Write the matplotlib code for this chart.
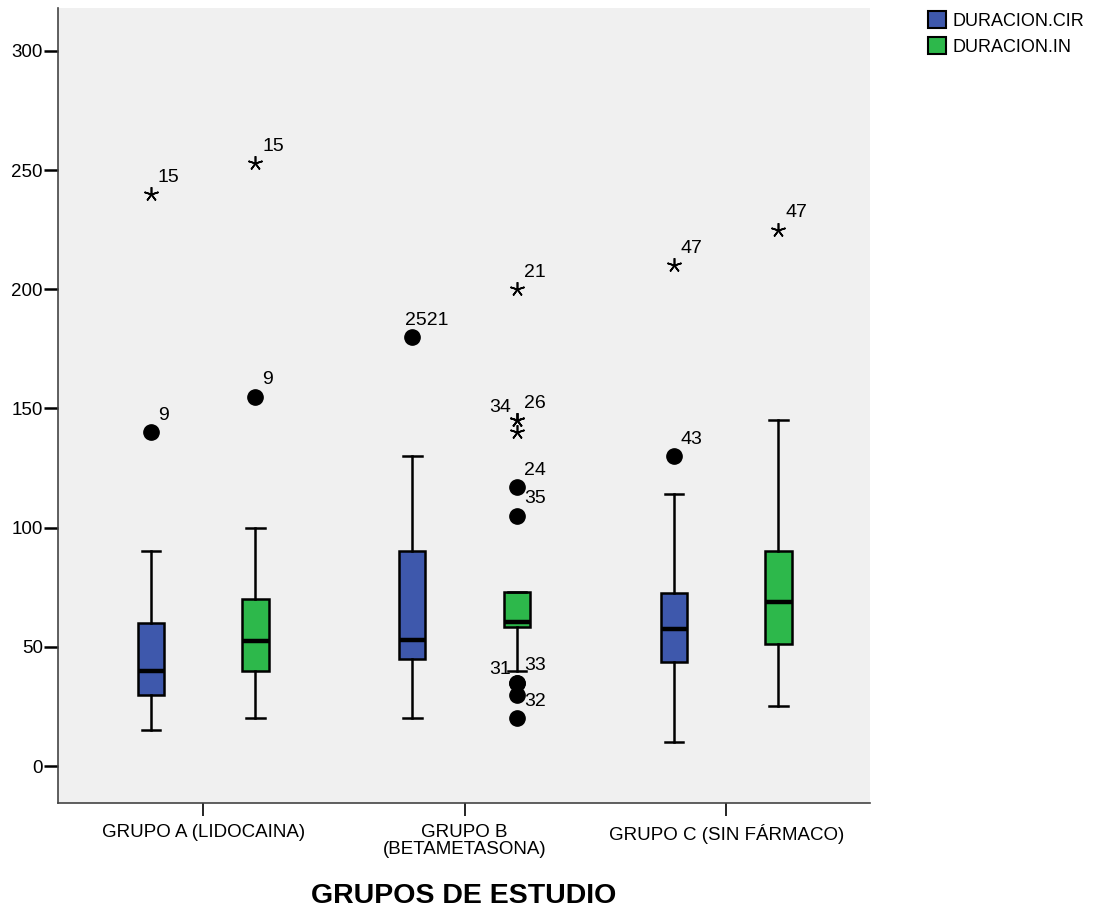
import numpy as np
import matplotlib
matplotlib.use("Agg")
import matplotlib.pyplot as plt
from matplotlib.patches import Patch

plt.rcParams['font.family'] = ['Liberation Sans', 'DejaVu Sans']

groups = ["GRUPO A (LIDOCAINA)", "GRUPO B\n(BETAMETASONA)", "GRUPO C (SIN FÁRMACO)"]
series = ["DURACION.CIR", "DURACION.IN"]
colors = ["#3E58AC", "#2DB84B"]

# box stats per group: [whislo, q1, med, q3, whishi]
cir_stats = [[15, 30, 40, 60, 90], [20, 45, 53, 90, 130], [10, 43.5, 57.5, 72.5, 114]]
in_stats = [[20, 40, 52.5, 70, 100], [40, 58.5, 60.5, 73, 73], [25, 51, 69, 90, 145]]

# outliers: (value, kind, label, label side)
cir_out = [
    [(140, "o", "9", "r"), (240, "*", "15", "r")],
    [(180, "o", "2521", "c")],
    [(130, "o", "43", "r"), (210, "*", "47", "r")],
]
in_out = [
    [(155, "o", "9", "r"), (253, "*", "15", "r")],
    [(200, "*", "21", "r"), (145, "*", "26", "r"), (145, "*", "34", "l"), (140, "*", "", "r"),
     (117, "o", "24", "r"), (105, "o", "35", "r"), (35, "o", "33", "r"), (35, "o", "31", "l"),
     (30, "o", "", "r"), (20, "o", "32", "r")],
    [(225, "*", "47", "r")],
]

fig = plt.figure(figsize=(10.93, 9.10), dpi=100)
ax = fig.add_axes([0.0531, 0.1176, 0.7429, 0.8736])
ax.set_facecolor("#F0F0F0")

x = np.arange(len(groups))
offset = 0.2
star = (5, 2, 0)

for s, (stats, outs, col) in enumerate(zip([cir_stats, in_stats], [cir_out, in_out], colors)):
    pos = x + (-offset if s == 0 else offset)
    bx = []
    for st in stats:
        bx.append(dict(whislo=st[0], q1=st[1], med=st[2], q3=st[3], whishi=st[4], fliers=[]))
    ax.bxp(bx, positions=pos, widths=0.1, patch_artist=True, showfliers=False,
           boxprops=dict(facecolor=col, edgecolor="black", linewidth=1.8),
           medianprops=dict(color="black", linewidth=3.2),
           whiskerprops=dict(color="black", linewidth=1.8),
           capprops=dict(color="black", linewidth=1.8), capwidths=0.07)
    for p, grp in zip(pos, outs):
        for val, kind, lab, side in grp:
            if kind == "o":
                ax.plot(p, val, "o", color="black", markersize=11, zorder=4)
            else:
                ax.plot(p, val, marker=star, color="black", markersize=10.5,
                        markeredgewidth=1.2, linestyle="none", zorder=4)
            if lab:
                if side == "r":
                    ax.annotate(lab, (p, val), xytext=(5, 6), textcoords="offset points",
                                fontsize=14, ha="left", va="bottom")
                elif side == "l":
                    ax.annotate(lab, (p, val), xytext=(-4, 3), textcoords="offset points",
                                fontsize=14, ha="right", va="bottom")
                else:
                    ax.annotate(lab, (p, val), xytext=(10, 6), textcoords="offset points",
                                fontsize=14, ha="center", va="bottom")

ax.set_xlim(-0.555, 2.55)
ax.set_ylim(-15.5, 318)
ax.set_yticks([0, 50, 100, 150, 200, 250, 300])
ax.set_xticks(x)
ax.set_xticklabels(groups, fontsize=13.5, linespacing=1.0)
ax.tick_params(axis="y", labelsize=13.5, length=10, width=1.8, pad=1)
ax.tick_params(axis="x", length=9, width=1.2, pad=6)
ax.spines["top"].set_visible(False)
ax.spines["right"].set_visible(False)
ax.spines["left"].set_color("#444444")
ax.spines["bottom"].set_color("#444444")
ax.spines["left"].set_linewidth(1.2)
ax.spines["bottom"].set_linewidth(1.2)
ax.set_xlabel("GRUPOS DE ESTUDIO", fontsize=20.5, fontweight="bold", labelpad=18)

handles = [Patch(facecolor=c, edgecolor="black", linewidth=1.5) for c in colors]
fig.legend(handles, series, loc="upper left", bbox_to_anchor=(0.849, 0.988), frameon=False,
           fontsize=13, handlelength=1.0, handleheight=1.1, handletextpad=0.35,
           labelspacing=0.4, borderaxespad=0.0, borderpad=0.0)

fig.savefig("out.png", dpi=100)
